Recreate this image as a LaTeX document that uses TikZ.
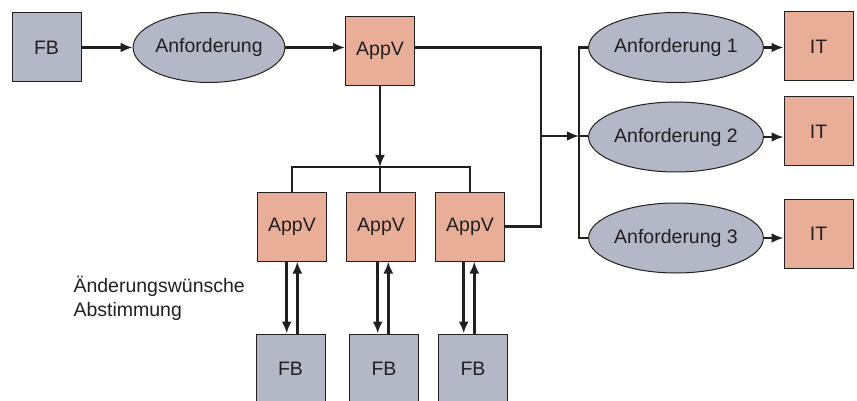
\documentclass[tikz,border=0pt]{standalone}
\usepackage{fontspec}
\setmainfont{Liberation Sans}
\usetikzlibrary{shapes,arrows,arrows.meta}
\usetikzlibrary{positioning}

\definecolor{fbgrey}{RGB}{179,183,198}
\definecolor{appvrose}{RGB}{232,174,152}
\definecolor{inkgrey}{RGB}{35,31,32}

\tikzset{
  box/.style={draw=inkgrey, line width=1pt, minimum width=69pt, minimum height=69pt, inner sep=0pt},
  fbbox/.style={box, fill=fbgrey},
  appvbox/.style={box, fill=appvrose},
  wish/.style={ellipse, draw=inkgrey, line width=1pt, fill=fbgrey, minimum width=138pt, minimum height=70pt, inner sep=0pt},
  conn/.style={draw=inkgrey, line width=2.8pt},
  tip/.style={-{Latex[length=12pt,width=10pt]}},
}

\begin{document}
\begin{tikzpicture}[x=1pt, y=-1pt, font=\fontsize{19.5}{24}\selectfont, text=inkgrey]
\clip (0,0) rectangle (857,401);
% oben
\node[fbbox] (fb) at (46.5,47.5) {FB};
\node[wish] (anf) at (209,47.5) {Anforderung};
\node[appvbox] (appv) at (380,51) {AppV};
% rechts
\node[wish] (anf1) at (676,47.5) {Anforderung 1};
\node[wish] (anf2) at (676,137) {Anforderung 2};
\node[wish] (anf3) at (676,238) {Anforderung 3};
\node[appvbox] (it1) at (818.5,46.5) {IT};
\node[appvbox] (it2) at (818.5,131.5) {IT};
\node[appvbox] (it3) at (818.5,233.5) {IT};
% unten
\foreach \n/\x/\f in {A/292/290.5, B/381/384, C/470/473} {
  \node[appvbox] (appv\n) at (\x,226.5) {AppV};
  \node[fbbox] (fb\n) at (\f,368.5) {FB};
}
\node[anchor=west, align=left] (note) at (70,298) {Änderungswünsche\\Abstimmung};

\coordinate (bus) at (380,167);
\coordinate (trunk) at (541,136);
\coordinate (fork) at (579,136);

\draw[conn, tip] (fb) -- (anf);
\draw[conn, tip] (anf.east) -- (anf.east -| appv.west);
\draw[conn] (anf.east -| appv.east) -| (trunk) |- (appvC.east);
\draw[conn, tip] (trunk) -- (fork);
\draw[conn] (anf1.west) -- (fork |- anf1) -- (fork |- anf3) -- (anf3.west);
\draw[conn] (fork) -- (fork -| anf2.west);
\draw[conn, tip] (anf1.east) -- (anf1.east -| it1.west);
\draw[conn, tip] (anf2.east) -- (anf2.east -| it2.west);
\draw[conn, tip] (anf3.east) -- (anf3.east -| it3.west);
\draw[conn, tip] (appv.south) -- (bus);
\draw[conn] (appvA.north) |- (bus) -| (appvC.north);
\draw[conn] (bus) -- (bus |- appvB.north);
\foreach \n/\x in {A/292, B/383, C/469} {
  \coordinate (dn\n) at (\x-5.3,0);
  \coordinate (up\n) at (\x+5.3,0);
  \draw[conn, tip] (dn\n |- appv\n.south) -- (dn\n |- fb\n.north);
  \draw[conn, tip] (up\n |- fb\n.north) -- (up\n |- appv\n.south);
}
\end{tikzpicture}
\end{document}
